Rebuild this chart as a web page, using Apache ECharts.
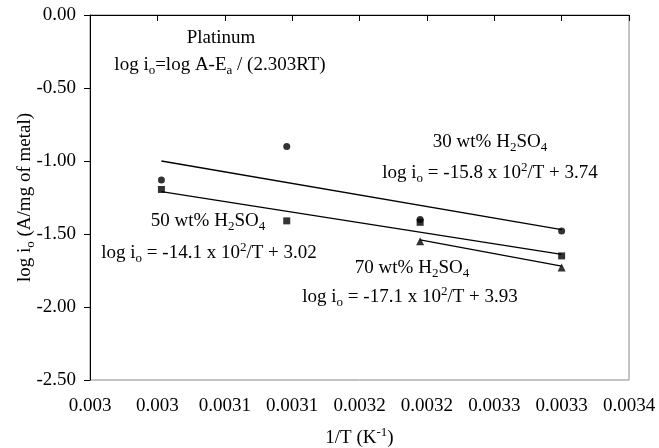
<!DOCTYPE html>
<html>
<head>
<meta charset="utf-8">
<script src="https://cdn.jsdelivr.net/npm/echarts@6/dist/echarts.min.js"></script>
<style>
  html, body { margin: 0; padding: 0; background: #fff; }
  #chart { width: 659px; height: 448px; }
</style>
</head>
<body>
<div id="chart"></div>
<script>
// 1/T values (K^-1) for the four temperatures
const invT = [0.003003, 0.003096, 0.003195, 0.0033];
// measured log io
const logI30 = [-1.13, -0.9, -1.4, -1.48];
const logI50 = [-1.195, -1.41, -1.42, -1.65];
const logI70 = [null, null, -1.55, -1.73];
// fitted lines, end points
const fit30X = [0.003003, 0.0033];
const fit30Y = [-1.0, -1.47];
const fit50X = [0.003003, 0.0033];
const fit50Y = [-1.21, -1.64];
const fit70X = [0.003195, 0.0033];
const fit70Y = [-1.54, -1.72];
// x tick labels as printed on the original chart
const xTickLabels = ["0.003", "0.003", "0.0031", "0.0031", "0.0032", "0.0032", "0.0033", "0.0033", "0.0034"];
const xMin = 0.00295, xMax = 0.00335, xStep = 0.00005;

const FONT = "Liberation Serif";
const rich = {
  n: { fontFamily: FONT, fontSize: 19, color: "#000", lineHeight: 24 },
  s: { fontFamily: FONT, fontSize: 13, color: "#000", lineHeight: 24, verticalAlign: "bottom", padding: [8, 0, 0, 0] },
  p: { fontFamily: FONT, fontSize: 13, color: "#000", lineHeight: 24, verticalAlign: "top", padding: [0, 0, 8, 0] }
};

const pairs = (xs, ys) => xs.map((x, i) => [x, ys[i]]).filter(d => d[1] != null);

function label(text, x, y) {
  return {
    type: "text", x: x, y: y,
    style: { text: text, rich: rich, align: "center", verticalAlign: "middle", font: "19px " + FONT }
  };
}

const chart = echarts.init(document.getElementById("chart"), null, { renderer: "canvas" });
chart.setOption({
  backgroundColor: "#fff",
  animation: false,
  grid: {
    left: 90, right: 30, top: 15, bottom: 68,
    containLabel: false, outerBoundsMode: "none",
    show: true, borderColor: "#888", borderWidth: 1
  },
  xAxis: {
    type: "value", min: xMin, max: xMax, interval: xStep,
    axisLine: { lineStyle: { color: "#000", width: 1 } },
    axisTick: { inside: false, length: 6, lineStyle: { color: "#000" } },
    splitLine: { show: false },
    axisLabel: {
      margin: 17, color: "#000", fontFamily: FONT, fontSize: 19,
      formatter: v => xTickLabels[Math.round((v - xMin) / xStep)] || ""
    },
    name: "{n|1/T (K}{p|-1}{n|)}",
    nameLocation: "middle", nameGap: 46, nameMoveOverlap: false,
    nameTextStyle: { rich: rich }
  },
  yAxis: {
    type: "value", min: -2.5, max: 0, interval: 0.5,
    axisLine: { show: true, lineStyle: { color: "#000", width: 1 } },
    axisTick: { show: true, inside: false, length: 6, lineStyle: { color: "#000" } },
    splitLine: { show: false },
    axisLabel: { margin: 14, color: "#000", fontFamily: FONT, fontSize: 19, formatter: v => v.toFixed(2) },
    name: "{n|log i}{s|o}{n| (A/mg of metal)}",
    nameLocation: "middle", nameGap: 53, nameRotate: 90, nameMoveOverlap: false,
    nameTextStyle: { rich: rich }
  },
  series: [
    { type: "line", data: pairs(fit30X, fit30Y), showSymbol: false, lineStyle: { color: "#000", width: 1.3 } },
    { type: "line", data: pairs(fit50X, fit50Y), showSymbol: false, lineStyle: { color: "#000", width: 1.3 } },
    { type: "line", data: pairs(fit70X, fit70Y), showSymbol: false, lineStyle: { color: "#000", width: 1.3 } },
    { type: "scatter", data: pairs(invT, logI30), symbol: "circle", symbolSize: 7, itemStyle: { color: "#000" } },
    { type: "scatter", data: pairs(invT, logI50), symbol: "rect", symbolSize: 7, itemStyle: { color: "#000" } },
    { type: "scatter", data: pairs(invT, logI70), symbol: "triangle", symbolSize: 8, itemStyle: { color: "#000" } }
  ],
  graphic: [
    label("{n|Platinum}", 221, 38),
    label("{n|log i}{s|o}{n|=log A-E}{s|a}{n| / (2.303RT)}", 220, 65),
    label("{n|30 wt% H}{s|2}{n|SO}{s|4}", 490, 142),
    label("{n|log i}{s|o}{n| = -15.8 x 10}{p|2}{n|/T + 3.74}", 490, 173),
    label("{n|50 wt% H}{s|2}{n|SO}{s|4}", 208, 221),
    label("{n|log i}{s|o}{n| = -14.1 x 10}{p|2}{n|/T + 3.02}", 209, 253),
    label("{n|70 wt% H}{s|2}{n|SO}{s|4}", 412, 268),
    label("{n|log i}{s|o}{n| = -17.1 x 10}{p|2}{n|/T + 3.93}", 410, 297)
  ]
});
</script>
</body>
</html>
